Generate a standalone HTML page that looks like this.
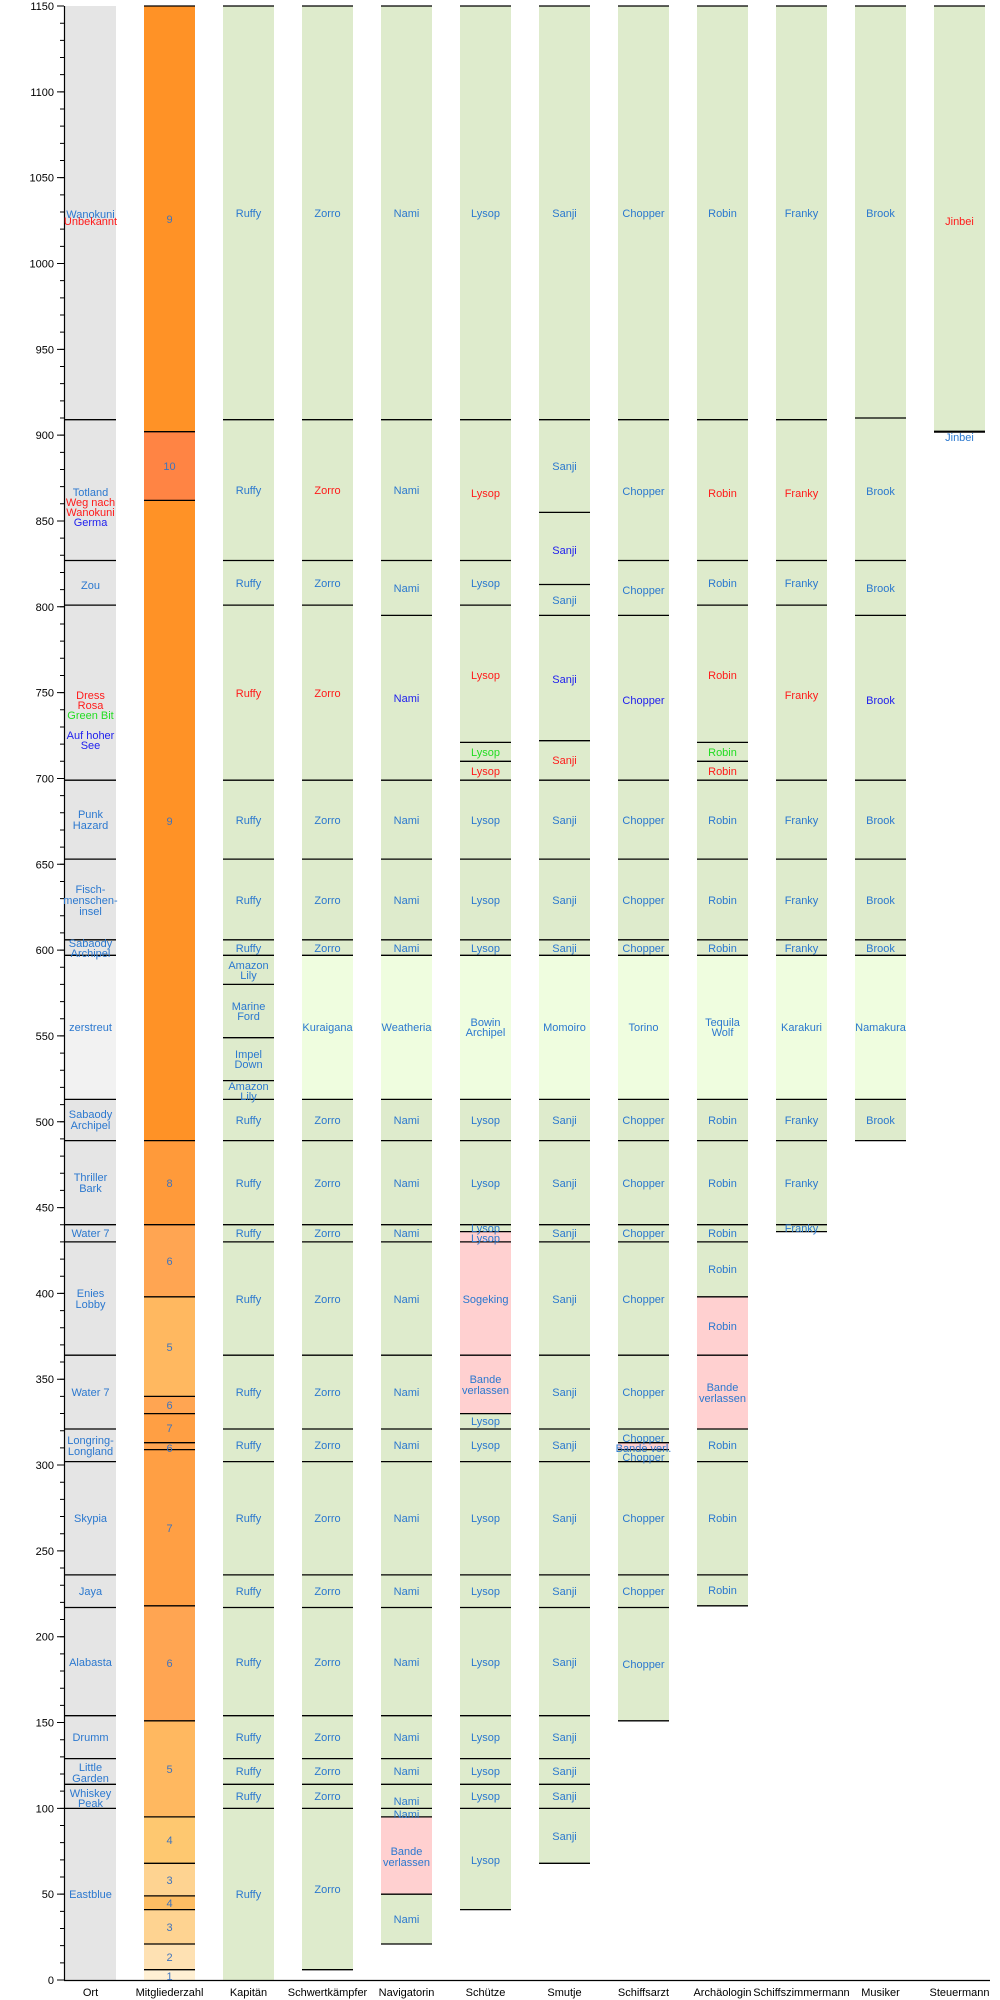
<!DOCTYPE html>
<html><head><meta charset="utf-8"><style>
html,body{margin:0;padding:0;background:#fff;}
svg{display:block;}
text{font-family:"Liberation Sans",sans-serif;font-size:11px;}
.t text{fill:#2b78cf;text-anchor:middle;}
text.r{fill:#ff1a1a;} text.g{fill:#22dd22;} text.d{fill:#2020ee;}
.m text{fill:#3f74bd;text-anchor:middle;}
.ln{stroke:#000;stroke-width:1.3;fill:none;}
</style></head><body>
<svg width="1000" height="2000" viewBox="0 0 1000 2000" xmlns="http://www.w3.org/2000/svg">
<!-- Ort -->
<rect x="65" y="6" width="51" height="1974" fill="#e5e5e5"/>
<rect x="65" y="955.3" width="51" height="144.1" fill="#f2f2f2"/>
<!-- Mitgliederzahl -->
<rect x="144" y="1969.7" width="51" height="10.3" fill="#fff0d4"/>
<rect x="144" y="1944" width="51" height="25.7" fill="#fee1b3"/>
<rect x="144" y="1909.6" width="51" height="34.4" fill="#fed391"/>
<rect x="144" y="1895.9" width="51" height="13.7" fill="#fdbd63"/>
<rect x="144" y="1863.3" width="51" height="32.6" fill="#fed391"/>
<rect x="144" y="1816.9" width="51" height="46.4" fill="#fec870"/>
<rect x="144" y="1720.8" width="51" height="96.1" fill="#ffb860"/>
<rect x="144" y="1605.8" width="51" height="115" fill="#ffa552"/>
<rect x="144" y="1449.6" width="51" height="156.2" fill="#ff9f44"/>
<rect x="144" y="1442.7" width="51" height="6.9" fill="#ffa552"/>
<rect x="144" y="1413.6" width="51" height="29.1" fill="#ff9f44"/>
<rect x="144" y="1396.4" width="51" height="17.2" fill="#ffa552"/>
<rect x="144" y="1296.8" width="51" height="99.6" fill="#ffb860"/>
<rect x="144" y="1224.7" width="51" height="72.1" fill="#ffa552"/>
<rect x="144" y="1140.6" width="51" height="84.1" fill="#ff9a3a"/>
<rect x="144" y="500.4" width="51" height="640.2" fill="#ff9226"/>
<rect x="144" y="431.7" width="51" height="68.7" fill="#ff8444"/>
<rect x="144" y="6" width="51" height="425.7" fill="#ff9226"/>
<!-- Kapitän -->
<rect x="223" y="6" width="51" height="1974" fill="#deebcc"/>
<!-- Schwertkämpfer -->
<rect x="302" y="6" width="51" height="1963.7" fill="#deebcc"/>
<rect x="302" y="955.3" width="51" height="144.1" fill="#effddf"/>
<!-- Navigatorin -->
<rect x="381" y="6" width="51" height="1938" fill="#deebcc"/>
<rect x="381" y="955.3" width="51" height="144.1" fill="#effddf"/>
<rect x="381" y="1816.9" width="51" height="77.3" fill="#ffd0d0"/>
<!-- Schütze -->
<rect x="460" y="6" width="51" height="1903.6" fill="#deebcc"/>
<rect x="460" y="955.3" width="51" height="144.1" fill="#effddf"/>
<rect x="460" y="1231.6" width="51" height="182" fill="#ffd0d0"/>
<!-- Smutje -->
<rect x="539" y="6" width="51" height="1857.3" fill="#deebcc"/>
<rect x="539" y="955.3" width="51" height="144.1" fill="#effddf"/>
<!-- Schiffsarzt -->
<rect x="618" y="6" width="51" height="1714.8" fill="#deebcc"/>
<rect x="618" y="955.3" width="51" height="144.1" fill="#effddf"/>
<rect x="618" y="1442.7" width="51" height="6.9" fill="#ffd0d0"/>
<!-- Archäologin -->
<rect x="697" y="6" width="51" height="1599.8" fill="#deebcc"/>
<rect x="697" y="955.3" width="51" height="144.1" fill="#effddf"/>
<rect x="697" y="1296.8" width="51" height="132.2" fill="#ffd0d0"/>
<!-- Schiffszimmermann -->
<rect x="776" y="6" width="51" height="1225.6" fill="#deebcc"/>
<rect x="776" y="955.3" width="51" height="144.1" fill="#effddf"/>
<!-- Musiker -->
<rect x="855" y="6" width="51" height="1134.6" fill="#deebcc"/>
<rect x="855" y="955.3" width="51" height="144.1" fill="#effddf"/>
<!-- Steuermann -->
<rect x="934" y="6" width="51" height="425.7" fill="#deebcc"/>

<!-- boundary lines -->
<path class="ln" d="M65 1808.4h51M65 1784.3h51M65 1758.6h51M65 1715.7h51M65 1607.5h51M65 1574.9h51M65 1461.6h51M65 1429h51M65 1355.2h51M65 1241.9h51M65 1224.7h51M65 1140.6h51M65 1099.4h51M65 955.3h51M65 939.8h51M65 859.1h51M65 780.2h51M65 605.1h51M65 560.5h51M65 419.7h51"/>
<path class="ln" d="M144 1969.7h51M144 1944h51M144 1909.6h51M144 1895.9h51M144 1863.3h51M144 1816.9h51M144 1720.8h51M144 1605.8h51M144 1449.6h51M144 1442.7h51M144 1413.6h51M144 1396.4h51M144 1296.8h51M144 1224.7h51M144 1140.6h51M144 500.4h51M144 431.7h51M144 6h51"/>
<path class="ln" d="M223 1808.4h51M223 1784.3h51M223 1758.6h51M223 1715.7h51M223 1607.5h51M223 1574.9h51M223 1461.6h51M223 1429h51M223 1355.2h51M223 1241.9h51M223 1224.7h51M223 1140.6h51M223 1099.4h51M223 1080.6h51M223 1037.7h51M223 984.4h51M223 955.3h51M223 939.8h51M223 859.1h51M223 780.2h51M223 605.1h51M223 560.5h51M223 419.7h51M223 6h51"/>
<path class="ln" d="M302 1969.7h51M302 1808.4h51M302 1784.3h51M302 1758.6h51M302 1715.7h51M302 1607.5h51M302 1574.9h51M302 1461.6h51M302 1429h51M302 1355.2h51M302 1241.9h51M302 1224.7h51M302 1140.6h51M302 1099.4h51M302 955.3h51M302 939.8h51M302 859.1h51M302 780.2h51M302 605.1h51M302 560.5h51M302 419.7h51M302 6h51"/>
<path class="ln" d="M381 1944h51M381 1894.2h51M381 1816.9h51M381 1808.4h51M381 1784.3h51M381 1758.6h51M381 1715.7h51M381 1607.5h51M381 1574.9h51M381 1461.6h51M381 1429h51M381 1355.2h51M381 1241.9h51M381 1224.7h51M381 1140.6h51M381 1099.4h51M381 955.3h51M381 939.8h51M381 859.1h51M381 780.2h51M381 615.4h51M381 560.5h51M381 419.7h51M381 6h51"/>
<path class="ln" d="M460 1909.6h51M460 1808.4h51M460 1784.3h51M460 1758.6h51M460 1715.7h51M460 1607.5h51M460 1574.9h51M460 1461.6h51M460 1429h51M460 1413.6h51M460 1355.2h51M460 1241.9h51M460 1231.6h51M460 1224.7h51M460 1140.6h51M460 1099.4h51M460 955.3h51M460 939.8h51M460 859.1h51M460 780.2h51M460 761.3h51M460 742.4h51M460 605.1h51M460 560.5h51M460 419.7h51M460 6h51"/>
<path class="ln" d="M539 1863.3h51M539 1808.4h51M539 1784.3h51M539 1758.6h51M539 1715.7h51M539 1607.5h51M539 1574.9h51M539 1461.6h51M539 1429h51M539 1355.2h51M539 1241.9h51M539 1224.7h51M539 1140.6h51M539 1099.4h51M539 955.3h51M539 939.8h51M539 859.1h51M539 780.2h51M539 740.7h51M539 615.4h51M539 584.5h51M539 512.4h51M539 419.7h51M539 6h51"/>
<path class="ln" d="M618 1720.8h51M618 1607.5h51M618 1574.9h51M618 1461.6h51M618 1449.6h51M618 1442.7h51M618 1429h51M618 1355.2h51M618 1241.9h51M618 1224.7h51M618 1140.6h51M618 1099.4h51M618 955.3h51M618 939.8h51M618 859.1h51M618 780.2h51M618 615.4h51M618 560.5h51M618 419.7h51M618 6h51"/>
<path class="ln" d="M697 1605.8h51M697 1574.9h51M697 1461.6h51M697 1429h51M697 1355.2h51M697 1296.8h51M697 1241.9h51M697 1224.7h51M697 1140.6h51M697 1099.4h51M697 955.3h51M697 939.8h51M697 859.1h51M697 780.2h51M697 761.3h51M697 742.4h51M697 605.1h51M697 560.5h51M697 419.7h51M697 6h51"/>
<path class="ln" d="M776 1231.6h51M776 1224.7h51M776 1140.6h51M776 1099.4h51M776 955.3h51M776 939.8h51M776 859.1h51M776 780.2h51M776 605.1h51M776 560.5h51M776 419.7h51M776 6h51"/>
<path class="ln" d="M855 1140.6h51M855 1099.4h51M855 955.3h51M855 939.8h51M855 859.1h51M855 780.2h51M855 615.4h51M855 560.5h51M855 418h51M855 6h51"/>
<path class="ln" d="M934 6h51"/>
<path d="M934 431.7h51" stroke="#000" stroke-width="2.2"/>

<!-- axes -->
<line x1="64.5" y1="6" x2="64.5" y2="1980" stroke="#000" stroke-width="1.2"/>
<line x1="64" y1="1980.5" x2="990" y2="1980.5" stroke="#000" stroke-width="1.2"/>
<line x1="62" y1="1980.5" x2="62" y2="5" stroke="#000" stroke-width="4" stroke-dasharray="1 16.165"/>
<line x1="60.5" y1="1980.5" x2="60.5" y2="5" stroke="#000" stroke-width="7" stroke-dasharray="1 84.825"/>
<g font-size="11" text-anchor="end" fill="#000">
<text x="54" y="1984">0</text><text x="54" y="1898.2">50</text><text x="54" y="1812.4">100</text><text x="54" y="1726.5">150</text><text x="54" y="1640.7">200</text><text x="54" y="1554.9">250</text><text x="54" y="1469.1">300</text><text x="54" y="1383.2">350</text><text x="54" y="1297.4">400</text><text x="54" y="1211.6">450</text><text x="54" y="1125.8">500</text><text x="54" y="1039.9">550</text><text x="54" y="954.1">600</text><text x="54" y="868.3">650</text><text x="54" y="782.5">700</text><text x="54" y="696.6">750</text><text x="54" y="610.8">800</text><text x="54" y="525">850</text><text x="54" y="439.2">900</text><text x="54" y="353.3">950</text><text x="54" y="267.5">1000</text><text x="54" y="181.7">1050</text><text x="54" y="95.9">1100</text><text x="54" y="10">1150</text>
</g>
<g font-size="11" text-anchor="middle" fill="#000">
<text x="90.5" y="1996">Ort</text><text x="169.5" y="1996">Mitgliederzahl</text><text x="248.5" y="1996">Kapitän</text><text x="327.5" y="1996">Schwertkämpfer</text><text x="406.5" y="1996">Navigatorin</text><text x="485.5" y="1996">Schütze</text><text x="564.5" y="1996">Smutje</text><text x="643.5" y="1996">Schiffsarzt</text><text x="722.5" y="1996">Archäologin</text><text x="801.5" y="1996">Schiffszimmermann</text><text x="880.5" y="1996">Musiker</text><text x="959.5" y="1996">Steuermann</text>
</g>

<!-- Ort labels -->
<g class="t">
<text x="90.5" y="1898">Eastblue</text>
<text x="90.5" y="1797">Whiskey</text><text x="90.5" y="1807">Peak</text>
<text x="90.5" y="1771">Little</text><text x="90.5" y="1782">Garden</text>
<text x="90.5" y="1741">Drumm</text>
<text x="90.5" y="1666">Alabasta</text>
<text x="90.5" y="1595">Jaya</text>
<text x="90.5" y="1522">Skypia</text>
<text x="90.5" y="1444">Longring-</text><text x="90.5" y="1455">Longland</text>
<text x="90.5" y="1396">Water 7</text>
<text x="90.5" y="1297">Enies</text><text x="90.5" y="1308">Lobby</text>
<text x="90.5" y="1237">Water 7</text>
<text x="90.5" y="1181">Thriller</text><text x="90.5" y="1192">Bark</text>
<text x="90.5" y="1118">Sabaody</text><text x="90.5" y="1129">Archipel</text>
<text x="90.5" y="1031">zerstreut</text>
<text x="90.5" y="947">Sabaody</text><text x="90.5" y="957">Archipel</text>
<text x="90.5" y="893">Fisch-</text><text x="90.5" y="904">menschen-</text><text x="90.5" y="915">insel</text>
<text x="90.5" y="818">Punk</text><text x="90.5" y="829">Hazard</text>
<text class="r" x="90.5" y="699">Dress</text><text class="r" x="90.5" y="709">Rosa</text><text class="g" x="90.5" y="719">Green Bit</text>
<text class="d" x="90.5" y="739">Auf hoher</text><text class="d" x="90.5" y="749">See</text>
<text x="90.5" y="589">Zou</text>
<text x="90.5" y="496">Totland</text><text class="r" x="90.5" y="506">Weg nach</text><text class="r" x="90.5" y="516">Wanokuni</text><text class="d" x="90.5" y="526">Germa</text>
<text x="90.5" y="218">Wanokuni</text><text class="r" x="90.5" y="225">Unbekannt</text>
</g>
<!-- Mitglieder labels -->
<g class="m">
<text x="169.5" y="1980">1</text><text x="169.5" y="1961">2</text><text x="169.5" y="1931">3</text><text x="169.5" y="1907">4</text><text x="169.5" y="1884">3</text><text x="169.5" y="1844">4</text><text x="169.5" y="1773">5</text><text x="169.5" y="1667">6</text><text x="169.5" y="1532">7</text><text x="169.5" y="1452">6</text><text x="169.5" y="1432">7</text><text x="169.5" y="1409">6</text><text x="169.5" y="1351">5</text><text x="169.5" y="1265">6</text><text x="169.5" y="1187">8</text><text x="169.5" y="825">9</text><text x="169.5" y="470">10</text><text x="169.5" y="223">9</text>
</g>
<!-- Kapitän -->
<g class="t">
<text x="248.5" y="1898">Ruffy</text><text x="248.5" y="1800">Ruffy</text><text x="248.5" y="1775">Ruffy</text><text x="248.5" y="1741">Ruffy</text><text x="248.5" y="1666">Ruffy</text><text x="248.5" y="1595">Ruffy</text><text x="248.5" y="1522">Ruffy</text><text x="248.5" y="1449">Ruffy</text><text x="248.5" y="1396">Ruffy</text><text x="248.5" y="1303">Ruffy</text><text x="248.5" y="1237">Ruffy</text><text x="248.5" y="1187">Ruffy</text><text x="248.5" y="1124">Ruffy</text>
<text x="248.5" y="1090">Amazon</text><text x="248.5" y="1100">Lily</text>
<text x="248.5" y="1058">Impel</text><text x="248.5" y="1068">Down</text>
<text x="248.5" y="1010">Marine</text><text x="248.5" y="1020">Ford</text>
<text x="248.5" y="969">Amazon</text><text x="248.5" y="979">Lily</text>
<text x="248.5" y="952">Ruffy</text><text x="248.5" y="904">Ruffy</text><text x="248.5" y="824">Ruffy</text><text class="r" x="248.5" y="697">Ruffy</text><text x="248.5" y="587">Ruffy</text><text x="248.5" y="494">Ruffy</text><text x="248.5" y="217">Ruffy</text>
</g>
<!-- Zorro -->
<g class="t">
<text x="327.5" y="1893">Zorro</text><text x="327.5" y="1800">Zorro</text><text x="327.5" y="1775">Zorro</text><text x="327.5" y="1741">Zorro</text><text x="327.5" y="1666">Zorro</text><text x="327.5" y="1595">Zorro</text><text x="327.5" y="1522">Zorro</text><text x="327.5" y="1449">Zorro</text><text x="327.5" y="1396">Zorro</text><text x="327.5" y="1303">Zorro</text><text x="327.5" y="1237">Zorro</text><text x="327.5" y="1187">Zorro</text><text x="327.5" y="1124">Zorro</text><text x="327.5" y="1031">Kuraigana</text><text x="327.5" y="952">Zorro</text><text x="327.5" y="904">Zorro</text><text x="327.5" y="824">Zorro</text><text class="r" x="327.5" y="697">Zorro</text><text x="327.5" y="587">Zorro</text><text class="r" x="327.5" y="494">Zorro</text><text x="327.5" y="217">Zorro</text>
</g>
<!-- Nami -->
<g class="t">
<text x="406.5" y="1923">Nami</text><text x="406.5" y="1855">Bande</text><text x="406.5" y="1866">verlassen</text><text x="406.5" y="1818">Nami</text><text x="406.5" y="1805">Nami</text><text x="406.5" y="1775">Nami</text><text x="406.5" y="1741">Nami</text><text x="406.5" y="1666">Nami</text><text x="406.5" y="1595">Nami</text><text x="406.5" y="1522">Nami</text><text x="406.5" y="1449">Nami</text><text x="406.5" y="1396">Nami</text><text x="406.5" y="1303">Nami</text><text x="406.5" y="1237">Nami</text><text x="406.5" y="1187">Nami</text><text x="406.5" y="1124">Nami</text><text x="406.5" y="1031">Weatheria</text><text x="406.5" y="952">Nami</text><text x="406.5" y="904">Nami</text><text x="406.5" y="824">Nami</text><text class="d" x="406.5" y="702">Nami</text><text x="406.5" y="592">Nami</text><text x="406.5" y="494">Nami</text><text x="406.5" y="217">Nami</text>
</g>
<!-- Lysop -->
<g class="t">
<text x="485.5" y="1864">Lysop</text><text x="485.5" y="1800">Lysop</text><text x="485.5" y="1775">Lysop</text><text x="485.5" y="1741">Lysop</text><text x="485.5" y="1666">Lysop</text><text x="485.5" y="1595">Lysop</text><text x="485.5" y="1522">Lysop</text><text x="485.5" y="1449">Lysop</text><text x="485.5" y="1425">Lysop</text><text x="485.5" y="1383">Bande</text><text x="485.5" y="1394">verlassen</text><text x="485.5" y="1303">Sogeking</text><text x="485.5" y="1242">Lysop</text><text x="485.5" y="1232">Lysop</text><text x="485.5" y="1187">Lysop</text><text x="485.5" y="1124">Lysop</text><text x="485.5" y="1026">Bowin</text><text x="485.5" y="1036">Archipel</text><text x="485.5" y="952">Lysop</text><text x="485.5" y="904">Lysop</text><text x="485.5" y="824">Lysop</text><text class="r" x="485.5" y="775">Lysop</text><text class="g" x="485.5" y="756">Lysop</text><text class="r" x="485.5" y="679">Lysop</text><text x="485.5" y="587">Lysop</text><text class="r" x="485.5" y="497">Lysop</text><text x="485.5" y="217">Lysop</text>
</g>
<!-- Sanji -->
<g class="t">
<text x="564.5" y="1840">Sanji</text><text x="564.5" y="1800">Sanji</text><text x="564.5" y="1775">Sanji</text><text x="564.5" y="1741">Sanji</text><text x="564.5" y="1666">Sanji</text><text x="564.5" y="1595">Sanji</text><text x="564.5" y="1522">Sanji</text><text x="564.5" y="1449">Sanji</text><text x="564.5" y="1396">Sanji</text><text x="564.5" y="1303">Sanji</text><text x="564.5" y="1237">Sanji</text><text x="564.5" y="1187">Sanji</text><text x="564.5" y="1124">Sanji</text><text x="564.5" y="1031">Momoiro</text><text x="564.5" y="952">Sanji</text><text x="564.5" y="904">Sanji</text><text x="564.5" y="824">Sanji</text><text class="r" x="564.5" y="764">Sanji</text><text class="d" x="564.5" y="683">Sanji</text><text x="564.5" y="604">Sanji</text><text class="d" x="564.5" y="554">Sanji</text><text x="564.5" y="470">Sanji</text><text x="564.5" y="217">Sanji</text>
</g>
<!-- Chopper -->
<g class="t">
<text x="643.5" y="1668">Chopper</text><text x="643.5" y="1595">Chopper</text><text x="643.5" y="1522">Chopper</text><text x="643.5" y="1461">Chopper</text><text x="643.5" y="1452">Bande verl.</text><text x="643.5" y="1442">Chopper</text><text x="643.5" y="1396">Chopper</text><text x="643.5" y="1303">Chopper</text><text x="643.5" y="1237">Chopper</text><text x="643.5" y="1187">Chopper</text><text x="643.5" y="1124">Chopper</text><text x="643.5" y="1031">Torino</text><text x="643.5" y="952">Chopper</text><text x="643.5" y="904">Chopper</text><text x="643.5" y="824">Chopper</text><text class="d" x="643.5" y="704">Chopper</text><text x="643.5" y="594">Chopper</text><text x="643.5" y="495">Chopper</text><text x="643.5" y="217">Chopper</text>
</g>
<!-- Robin -->
<g class="t">
<text x="722.5" y="1594">Robin</text><text x="722.5" y="1522">Robin</text><text x="722.5" y="1449">Robin</text><text x="722.5" y="1391">Bande</text><text x="722.5" y="1402">verlassen</text><text x="722.5" y="1330">Robin</text><text x="722.5" y="1273">Robin</text><text x="722.5" y="1237">Robin</text><text x="722.5" y="1187">Robin</text><text x="722.5" y="1124">Robin</text><text x="722.5" y="1026">Tequila</text><text x="722.5" y="1036">Wolf</text><text x="722.5" y="952">Robin</text><text x="722.5" y="904">Robin</text><text x="722.5" y="824">Robin</text><text class="r" x="722.5" y="775">Robin</text><text class="g" x="722.5" y="756">Robin</text><text class="r" x="722.5" y="679">Robin</text><text x="722.5" y="587">Robin</text><text class="r" x="722.5" y="497">Robin</text><text x="722.5" y="217">Robin</text>
</g>
<!-- Franky -->
<g class="t">
<text x="801.5" y="1232">Franky</text><text x="801.5" y="1187">Franky</text><text x="801.5" y="1124">Franky</text><text x="801.5" y="1031">Karakuri</text><text x="801.5" y="952">Franky</text><text x="801.5" y="904">Franky</text><text x="801.5" y="824">Franky</text><text class="r" x="801.5" y="699">Franky</text><text x="801.5" y="587">Franky</text><text class="r" x="801.5" y="497">Franky</text><text x="801.5" y="217">Franky</text>
</g>
<!-- Brook -->
<g class="t">
<text x="880.5" y="1124">Brook</text><text x="880.5" y="1031">Namakura</text><text x="880.5" y="952">Brook</text><text x="880.5" y="904">Brook</text><text x="880.5" y="824">Brook</text><text class="d" x="880.5" y="704">Brook</text><text x="880.5" y="592">Brook</text><text x="880.5" y="495">Brook</text><text x="880.5" y="217">Brook</text>
</g>
<!-- Jinbei -->
<g class="t">
<text class="r" x="959.5" y="225">Jinbei</text><text x="959.5" y="441">Jinbei</text>
</g>
</svg>
</body></html>
